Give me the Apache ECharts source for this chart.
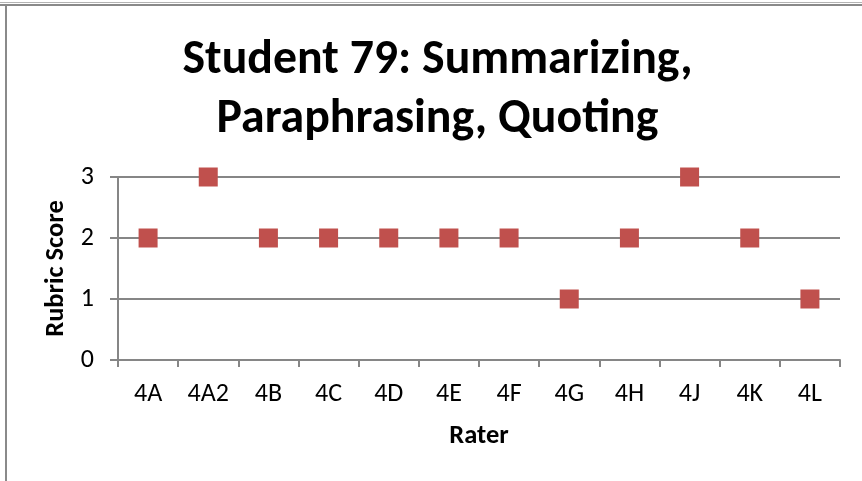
<!DOCTYPE html>
<html>
<head>
<meta charset="utf-8">
<script src="https://cdn.jsdelivr.net/npm/echarts@6/dist/echarts.min.js"></script>
<style>
  html, body { margin: 0; padding: 0; background: #ffffff; }
  #chart { width: 862px; height: 481px; }
</style>
</head>
<body>
<div id="chart"></div>
<script>
// Raters and the rubric score each one gave
const raters = ['4A', '4A2', '4B', '4C', '4D', '4E', '4F', '4G', '4H', '4J', '4K', '4L'];
const scores = [2, 3, 2, 2, 2, 2, 2, 1, 2, 3, 2, 1];
const scoreTicks = [0, 1, 2, 3];
const chartTitle = 'Student 79: Summarizing,\nParaphrasing, Quoting';

const FONT = 'Carlito, Lato, "Open Sans", sans-serif';
const AXIS_GRAY = '#868686';

const chart = echarts.init(document.getElementById('chart'), null, { renderer: 'canvas' });

chart.setOption({
  animation: false,
  backgroundColor: '#ffffff',
  grid: { left: 118, top: 177, width: 722, height: 183, containLabel: false },
  xAxis: {
    type: 'category',
    data: raters,
    boundaryGap: true,
    name: 'Rater',
    nameLocation: 'middle',
    nameGap: 63,
    nameTextStyle: { fontFamily: FONT, fontWeight: 'bold', fontSize: 26.5, color: '#000000' },
    axisLine: { show: true, lineStyle: { color: AXIS_GRAY, width: 2 } },
    axisTick: { show: true, length: 7, lineStyle: { color: AXIS_GRAY, width: 2 } },
    axisLabel: { fontFamily: FONT, fontSize: 26, color: '#000000', margin: 21 },
    splitLine: { show: false }
  },
  yAxis: {
    type: 'value',
    min: scoreTicks[0],
    max: scoreTicks[scoreTicks.length - 1],
    interval: 1,
    name: 'Rubric Score',
    nameLocation: 'middle',
    nameGap: 48,
    nameTextStyle: { fontFamily: FONT, fontWeight: 'bold', fontSize: 26.5, color: '#000000' },
    axisLine: { show: true, lineStyle: { color: AXIS_GRAY, width: 2 } },
    axisTick: { show: true, length: 8, lineStyle: { color: AXIS_GRAY, width: 2 } },
    axisLabel: { fontFamily: FONT, fontSize: 26, color: '#000000', margin: 24 },
    splitLine: { show: true, lineStyle: { color: AXIS_GRAY, width: 2 } }
  },
  series: [{
    type: 'scatter',
    data: scores,
    symbol: 'rect',
    symbolSize: 19,
    itemStyle: { color: '#C0504D', opacity: 1 },
    z: 5
  }],
  graphic: [
    // two-line centred title
    {
      type: 'text',
      silent: true,
      x: 437.5,
      y: 32,
      style: {
        text: chartTitle,
        align: 'center',
        verticalAlign: 'top',
        fontFamily: FONT,
        fontWeight: 'bold',
        fontSize: 47.8,
        lineHeight: 59,
        fill: '#000000'
      }
    },
    // frame lines around the chart area
    { type: 'line', silent: true, shape: { x1: 0, y1: 2.5, x2: 862, y2: 2.5 }, style: { stroke: '#b4b4b4', lineWidth: 1 } },
    { type: 'line', silent: true, shape: { x1: 0, y1: 5, x2: 862, y2: 5 }, style: { stroke: '#8a8a8a', lineWidth: 2 } },
    { type: 'line', silent: true, shape: { x1: 6, y1: 4, x2: 6, y2: 481 }, style: { stroke: '#8a8a8a', lineWidth: 2 } }
  ]
});
</script>
</body>
</html>
